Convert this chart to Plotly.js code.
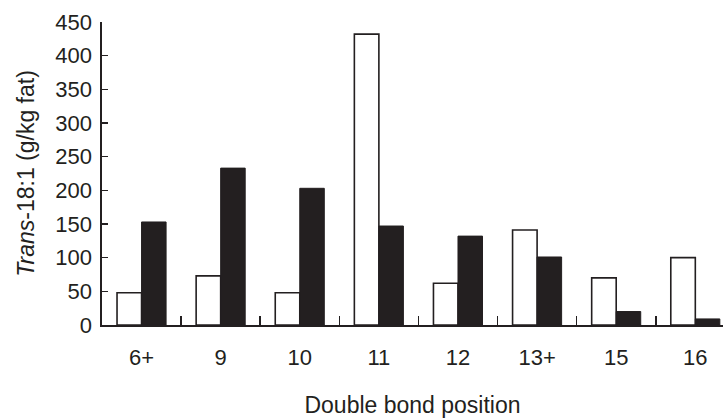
<!DOCTYPE html>
<html>
<head>
<meta charset="utf-8">
<script src="https://cdn.plot.ly/plotly-3.0.1.min.js"></script>
<style>
  html, body { margin: 0; padding: 0; background: #ffffff; }
  #chart { width: 723px; height: 418px; }
</style>
</head>
<body>
<div id="chart"></div>
<script>
// Double bond positions of trans-18:1 isomers
const positions = ["6+", "9", "10", "11", "12", "13+", "15", "16"];
// Open bars
const seriesOpen = [48, 73, 48, 432, 62, 141, 70, 100];
// Filled bars
const seriesFilled = [153, 233, 203, 147, 132, 101, 20, 9];
const yTicks = [0, 50, 100, 150, 200, 250, 300, 350, 400, 450];

const ink = "#231f20";
const fontFamily = "'Liberation Sans', Arial, Helvetica, sans-serif";

const traces = [
  {
    type: "bar",
    x: positions,
    y: seriesOpen,
    marker: { color: "#ffffff", line: { color: ink, width: 1.6 } },
    hoverinfo: "skip"
  },
  {
    type: "bar",
    x: positions,
    y: seriesFilled,
    marker: { color: ink, line: { color: ink, width: 1 } },
    hoverinfo: "skip"
  }
];

const layout = {
  width: 723,
  height: 418,
  margin: { l: 102, r: 0, t: 22, b: 93 },
  paper_bgcolor: "#ffffff",
  plot_bgcolor: "#ffffff",
  showlegend: false,
  barmode: "group",
  bargap: 0.38,
  bargroupgap: 0,
  font: { family: fontFamily, size: 22, color: ink },
  xaxis: {
    type: "category",
    range: [-0.5, 7.35],
    tickson: "boundaries",
    ticks: "inside",
    ticklen: 9,
    tickwidth: 1.5,
    tickcolor: ink,
    showline: true,
    linecolor: ink,
    linewidth: 1.6,
    showgrid: false,
    zeroline: false,
    ticklabelstandoff: 12,
    tickfont: { size: 22, color: ink },
    title: { text: "Double bond position", font: { size: 23, color: ink }, standoff: 30 }
  },
  yaxis: {
    range: [0, 450],
    tickmode: "array",
    tickvals: yTicks,
    ticktext: yTicks.map(String),
    ticks: "inside",
    ticklen: 6,
    tickwidth: 1.5,
    tickcolor: ink,
    showline: true,
    linecolor: ink,
    linewidth: 1.6,
    showgrid: false,
    zeroline: false,
    ticklabelstandoff: 4,
    tickfont: { size: 22, color: ink },
    title: { text: "<i>Trans</i>-18:1 (g/kg fat)", font: { size: 23, color: ink }, standoff: 14 }
  }
};

Plotly.newPlot("chart", traces, layout, { staticPlot: true, displayModeBar: false });
</script>
</body>
</html>
